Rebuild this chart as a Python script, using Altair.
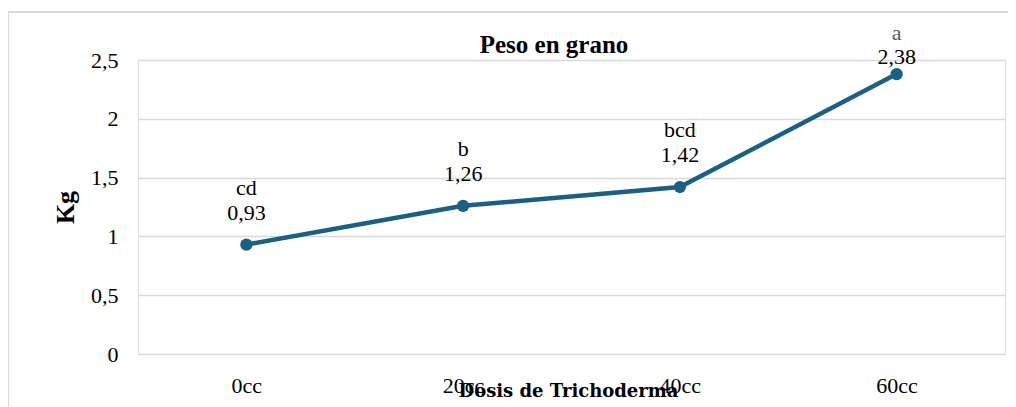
import altair as alt
import pandas as pd

categories = ["0cc", "20cc", "40cc", "60cc"]
values = [0.93, 1.26, 1.42, 2.38]
letters = ["cd", "b", "bcd", "a"]
value_labels = ["0,93", "1,26", "1,42", "2,38"]
letter_colors = ["#000000", "#000000", "#000000", "#595959"]

df = pd.DataFrame({"cat": categories, "val": values, "let": letters,
                   "lab": value_labels, "lc": letter_colors})

FONT = "Liberation Serif"
LINE = "#1b6083"

x = alt.X("cat:N", sort=categories, scale=alt.Scale(paddingInner=0, paddingOuter=0),
          axis=alt.Axis(title="Dosis de Trichoderma", labelAngle=0, labelFont=FONT,
                        labelFontSize=22, labelColor="#000000", labelPadding=21,
                        ticks=False, domain=False, grid=False,
                        titleFont="DejaVu Serif", titleFontSize=18, titleFontWeight="bold",
                        titleColor="#000000", titlePadding=-14, titleX=430))
y = alt.Y("val:Q", scale=alt.Scale(domain=[0, 2.5], nice=False),
          axis=alt.Axis(title="Kg", values=[0, 0.5, 1, 1.5, 2, 2.5],
                        labelExpr="replace(format(datum.value, '~g'), '.', ',')",
                        labelFont=FONT, labelFontSize=22, labelColor="#000000",
                        labelPadding=20, ticks=False, domain=False,
                        grid=True, gridColor="#d9d9d9", gridWidth=1.5,
                        titleFont=FONT, titleFontSize=26, titleFontWeight="bold",
                        titleColor="#000000", titlePadding=12))

base = alt.Chart(df)
line = base.mark_line(color=LINE, strokeWidth=4.5).encode(x=x, y=y)
pts = base.mark_point(color=LINE, filled=True, opacity=1, size=150, shape="circle").encode(x=x, y=y)

low = base.transform_filter(alt.datum.cat != "60cc")
high = base.transform_filter(alt.datum.cat == "60cc")
nums = low.mark_text(font=FONT, fontSize=22, color="#000000", dy=-32, baseline="middle").encode(
    x=x, y=y, text="lab:N")
lets = low.mark_text(font=FONT, fontSize=22, dy=-57, baseline="middle").encode(
    x=x, y=y, text="let:N", color=alt.Color("lc:N", scale=None))
nums_h = high.mark_text(font=FONT, fontSize=22, color="#000000", dy=-17, baseline="middle").encode(
    x=x, y=y, text="lab:N")
lets_h = high.mark_text(font=FONT, fontSize=22, dy=-41, baseline="middle").encode(
    x=x, y=y, text="let:N", color=alt.Color("lc:N", scale=None))

title = alt.Chart(pd.DataFrame({"t": ["Peso en grano"]})).mark_text(
    font=FONT, fontSize=25, fontWeight="bold", color="#000000", baseline="alphabetic"
).encode(text="t:N", x=alt.value(416), y=alt.value(-7))

frame_top = alt.Chart(df).mark_rule(color="#d9d9d9", strokeWidth=2).encode(
    x=alt.value(-131), x2=alt.value(880), y=alt.value(-48))
frame_left = alt.Chart(df).mark_rule(color="#d9d9d9", strokeWidth=2).encode(
    x=alt.value(-130), y=alt.value(-48), y2=alt.value(400))

chart = alt.layer(frame_top, frame_left, line, pts, nums, lets, nums_h, lets_h, title).properties(
    width=867, height=294,
    autosize=alt.AutoSizeParams(type="none"),
    padding={"left": 130, "top": 52, "right": 3, "bottom": 53},
).configure_view(stroke=None).configure(background="white")

chart.save("out.html", embed_options={"renderer": "svg", "actions": False})
